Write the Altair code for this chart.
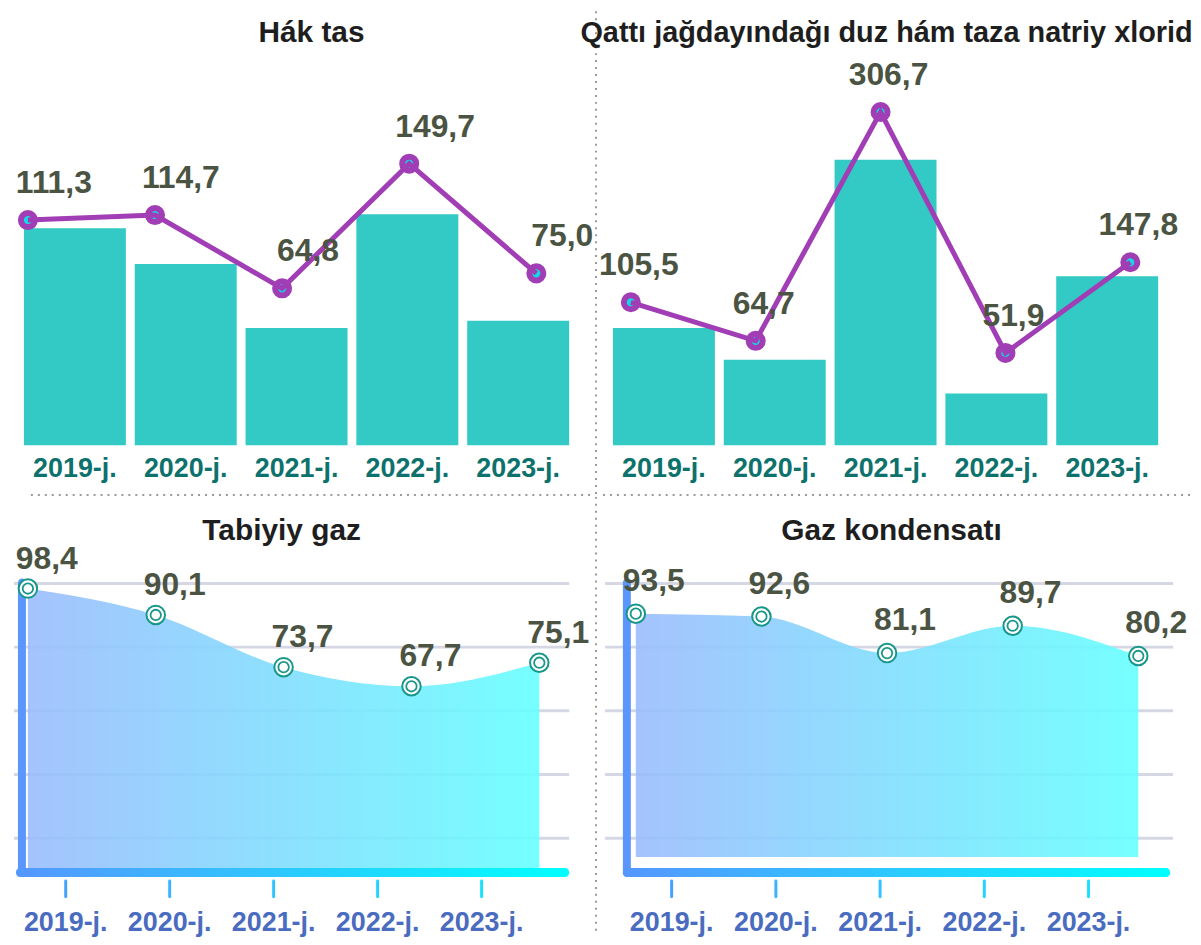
import altair as alt
import pandas as pd

# ---------------- data ----------------
years = ["2019-j.", "2020-j.", "2021-j.", "2022-j.", "2023-j."]

tl_title = "Hák tas"
tl_bars = [55.3, 46.2, 29.9, 58.9, 31.7]      # relative bar heights
tl_line = [111.3, 114.7, 64.8, 149.7, 75.0]

tr_title = "Qattı jağdayındağı duz hám taza natriy xlorid"
tr_bars = [29.9, 21.8, 72.8, 13.2, 43.1]      # relative bar heights
tr_line = [105.5, 64.7, 306.7, 51.9, 147.8]

bl_title = "Tabiyiy gaz"
bl_vals = [98.4, 90.1, 73.7, 67.7, 75.1]

br_title = "Gaz kondensatı"
br_vals = [93.5, 92.6, 81.1, 89.7, 80.2]

grid_vals = [20, 40, 60, 80, 100]

# ---------------- style ----------------
FONT = "Liberation Sans"
TEAL = "#33c9c4"
PURPLE = "#a13db5"
LABEL = "#4b5443"
W_L, W_R = 585, 600
H_T, H_B = 488, 438
SEP = "#9a9a9a"

one = alt.Data(values=[{"k": 1}])


def fmt(v):
    return f"{v:.1f}".replace(".", ",")


def hsep(x0, x1, y):
    return alt.Chart(one).mark_rule(color=SEP, strokeWidth=2, strokeDash=[2, 5]).encode(
        x=alt.value(x0), x2=alt.value(x1), y=alt.value(y))


def vsep(x, y0, y1):
    return alt.Chart(one).mark_rule(color=SEP, strokeWidth=2, strokeDash=[2, 5]).encode(
        x=alt.value(x), y=alt.value(y0), y2=alt.value(y1))


def title_mark(text, x, y, size):
    return alt.Chart(one).mark_text(text=text, font=FONT, fontSize=size, fontWeight="bold",
                                    color="#1e1e1e", align="center", baseline="middle").encode(
        x=alt.value(x), y=alt.value(y))


def top_panel(title, title_x, title_size, bars, line, width, bar_range, line_range, line_domain,
              dx, seps):
    df = pd.DataFrame({"year": years, "bar": bars, "val": line, "label": [fmt(v) for v in line]})
    base = alt.Chart(df)
    xb = alt.X("year:N", sort=years, axis=None,
               scale=alt.Scale(type="band", range=bar_range, paddingInner=0.08, paddingOuter=0))
    xl = alt.X("year:N", sort=years, axis=None,
               scale=alt.Scale(type="point", range=line_range, padding=0))
    yb = alt.Y("bar:Q", axis=None, scale=alt.Scale(domain=[0, 100], range=[436, 42]))
    yl = alt.Y("val:Q", axis=None, scale=alt.Scale(domain=line_domain, range=[436, 42]))

    bars_l = base.mark_bar(color=TEAL).encode(x=xb, y=yb)
    xlab = base.mark_text(font=FONT, fontSize=27, fontWeight="bold", color="#0d716c",
                          baseline="middle").encode(x=xb, y=alt.value(460), text="year:N")
    pts = base.mark_circle(size=200, fill="#14d8e6", stroke=PURPLE, strokeWidth=6,
                           opacity=1, fillOpacity=1).encode(x=xl, y=yl)
    ln = base.mark_line(color=PURPLE, strokeWidth=5).encode(x=xl, y=yl)
    vlab = base.mark_text(font=FONT, fontSize=32, fontWeight="bold", color=LABEL, dx=dx, dy=-37,
                          baseline="middle").encode(x=xl, y=yl, text="label:N")
    layers = [bars_l, xlab, pts, ln, vlab, title_mark(title, title_x, 22, title_size)] + seps
    return alt.layer(*layers).resolve_scale(x="independent", y="independent").properties(
        width=width, height=H_T)


GRAD_AREA = alt.Gradient(gradient="linear", x1=0, x2=1, y1=0, y2=0,
                         stops=[alt.GradientStop(color="#9bbcfd", offset=0),
                                alt.GradientStop(color="#66ffff", offset=1)])
GRAD_AXIS = alt.Gradient(gradient="linear", x1=0, x2=1, y1=0, y2=0,
                         stops=[alt.GradientStop(color="#5596ff", offset=0),
                                alt.GradientStop(color="#00ffff", offset=1)])
TICK_COLORS = ["#44a2ff", "#3bb3ff", "#30c3ff", "#25d2ff", "#1ae0ff"]


def bottom_panel(title, title_x, vals, width, area_range, tick_range, y_domain, y_range,
                 lbar_x, bbar_x, grid_x, dx, dy, seps):
    df = pd.DataFrame({"year": years, "val": vals, "label": [fmt(v) for v in vals]})
    base = alt.Chart(df)
    xa = alt.X("year:N", sort=years, axis=None,
               scale=alt.Scale(type="point", range=area_range, padding=0))
    xt = alt.X("year:N", sort=years, axis=None,
               scale=alt.Scale(type="point", range=tick_range, padding=0))
    ys = alt.Y("val:Q", axis=None, scale=alt.Scale(domain=y_domain, range=y_range))

    grid = alt.Chart(pd.DataFrame({"g": grid_vals})).mark_rule(color="#d5d7e5", strokeWidth=3).encode(
        y=alt.Y("g:Q", axis=None, scale=alt.Scale(domain=[10, 100], range=[375, 87])),
        x=alt.value(grid_x[0]), x2=alt.value(grid_x[1]))
    area = base.mark_area(color=GRAD_AREA, opacity=0.9, interpolate="monotone").encode(
        x=xa, y=ys, y2=alt.datum(y_domain[0]))
    lbar = alt.Chart(one).mark_rect(color="#5a96fc", cornerRadius=4).encode(
        x=alt.value(lbar_x), x2=alt.value(lbar_x + 8), y=alt.value(82), y2=alt.value(382))
    bbar = alt.Chart(one).mark_rect(color=GRAD_AXIS, cornerRadius=4).encode(
        x=alt.value(bbar_x[0]), x2=alt.value(bbar_x[1]), y=alt.value(373), y2=alt.value(382))
    ticks = base.mark_rule(strokeWidth=3, strokeCap="round").encode(
        x=xt, y=alt.value(386), y2=alt.value(402),
        color=alt.Color("year:N", sort=years, legend=None, scale=alt.Scale(range=TICK_COLORS)))
    xlab = base.mark_text(font=FONT, fontSize=27, fontWeight="bold", color="#4a6cc0",
                          baseline="middle").encode(x=xt, y=alt.value(428), text="year:N")
    outer = base.mark_circle(size=346, fill="white", stroke="#17968a", strokeWidth=2,
                             opacity=1, fillOpacity=1).encode(x=xa, y=ys)
    inner = base.mark_circle(size=110, fill="white", stroke="#17968a", strokeWidth=1.8,
                             opacity=1, fillOpacity=1).encode(x=xa, y=ys)
    vlab = base.mark_text(font=FONT, fontSize=32, fontWeight="bold", color=LABEL, dx=dx, dy=dy,
                          baseline="middle").encode(x=xa, y=ys, text="label:N")
    layers = [grid, area, lbar, bbar, ticks, xlab, outer, inner, vlab,
              title_mark(title, title_x, 34, 30)] + seps
    return alt.layer(*layers).resolve_scale(x="independent", y="independent",
                                            color="independent").properties(width=width, height=H_B)


tl = top_panel(tl_title, 299, 30, tl_bars, tl_line, W_L, [10, 558], [14, 525], [-42, 225], 26,
               [vsep(585, 0, H_T), hsep(17, 580, 486)])
tr = top_panel(tr_title, 292, 29, tr_bars, tr_line, W_R, [17, 565], [35, 537], [-45.6, 369], 8,
               [hsep(7, 597, 486)])
bl = bottom_panel(bl_title, 269, bl_vals, W_L, [14, 528], [52, 470], [10, 100], [375, 87],
                  4, [2, 558], [0, 558], 19, -30, [vsep(585, 0, H_B)])
br = bottom_panel(br_title, 297, br_vals, W_R, [40, 545], [76, 495], [17, 103], [362, 87],
                  27, [27, 577], [9, 580], 18, -33, [])

chart = alt.concat(tl, tr, bl, br, columns=2, spacing=0, bounds="flush").properties(
    padding=0, background="white").configure_view(stroke=None)

chart.save("out.html", embed_options={"renderer": "svg", "actions": False})
